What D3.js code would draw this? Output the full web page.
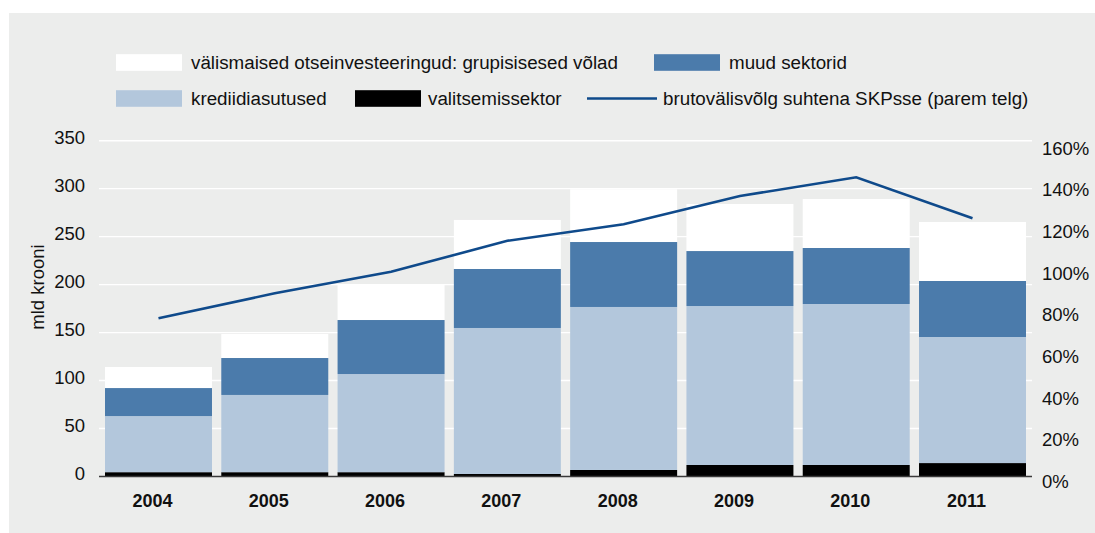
<!DOCTYPE html>
<html>
<head>
<meta charset="utf-8">
<script src="https://cdn.jsdelivr.net/npm/d3@7"></script>
<style>
html,body{margin:0;padding:0;background:#ffffff;}
svg{display:block;font-family:"Liberation Sans",Arial,Helvetica,sans-serif;}
</style>
</head>
<body>
<svg id="chart" width="1095" height="533"></svg>
<script>
const years = ["2004","2005","2006","2007","2008","2009","2010","2011"];
const govSector = [4.5, 4.5, 4.5, 2.6, 6.8, 12, 12, 14];
const creditInst = [58.5, 80.5, 102.3, 152.2, 169.9, 165.7, 167.8, 131.4];
const otherSectors = [29.2, 38.5, 56.3, 61.5, 67.7, 57.3, 58.4, 58.4];
const fdiIntra = [21.9, 25, 36.5, 51.1, 55, 49, 51, 61.5];
const debtToGdp = [78.4, 90.4, 100.7, 115.6, 123.5, 137.1, 146.1, 126.4];
const leftTicks = [0, 50, 100, 150, 200, 250, 300, 350];
const rightTicks = [0, 20, 40, 60, 80, 100, 120, 140, 160];

const seriesKeys = ["gov", "credit", "other", "fdi"];
const seriesLabels = {
  fdi: "välismaised otseinvesteeringud: grupisisesed võlad",
  other: "muud sektorid",
  credit: "krediidiasutused",
  gov: "valitsemissektor",
  line: "brutovälisvõlg suhtena SKPsse (parem telg)"
};
const colors = {gov: "#000000", credit: "#b3c7dc", other: "#4b7bab", fdi: "#ffffff", line: "#0f4a8b"};

const table = years.map((y, i) => ({year: y, gov: govSector[i], credit: creditInst[i], other: otherSectors[i], fdi: fdiIntra[i]}));

const svg = d3.select("#chart");
const W = 1095, H = 533;

// panel background
svg.append("rect").attr("x", 9).attr("y", 13).attr("width", W - 9).attr("height", H - 13).attr("fill", "#ecedec");

const x = d3.scaleBand().domain(years).range([99, 1032]).paddingInner(0.08).paddingOuter(0.0516);
const y = d3.scaleLinear().domain([0, 350]).range([476.5, 140.7]);
const yR = d3.scaleLinear().domain([0, 160]).range([481.6, 148.3]);

const fontSize = 18.5;

// gridlines
svg.append("g").selectAll("line").data(leftTicks.filter(d => d > 0)).join("line")
  .attr("x1", 99).attr("x2", 1032)
  .attr("y1", d => y(d)).attr("y2", d => y(d))
  .attr("stroke", "#ffffff").attr("stroke-width", 1.4);

// stacked bars
const stack = d3.stack().keys(seriesKeys)(table);
svg.append("g").selectAll("g").data(stack).join("g")
  .attr("fill", d => colors[d.key])
  .selectAll("rect").data(d => d).join("rect")
  .attr("x", d => x(d.data.year))
  .attr("width", x.bandwidth())
  .attr("y", d => y(d[1]))
  .attr("height", d => y(d[0]) - y(d[1]));

// baseline axis
svg.append("line").attr("x1", 99).attr("x2", 1032).attr("y1", y(0)).attr("y2", y(0))
  .attr("stroke", "#3a3a3a").attr("stroke-width", 1.4);

// left axis
const leftAxis = d3.axisLeft(y).tickValues(leftTicks).tickSize(0).tickPadding(14);
const gL = svg.append("g").attr("transform", "translate(99,-3)").call(leftAxis);
gL.select(".domain").remove();
gL.selectAll("text").attr("font-size", fontSize).attr("fill", "#111").attr("font-family", "Liberation Sans, Arial, sans-serif");

// right axis
const rightAxis = d3.axisRight(yR).tickValues(rightTicks).tickSize(0).tickPadding(10).tickFormat(d => d + "%");
const gR = svg.append("g").attr("transform", "translate(1032,0)").call(rightAxis);
gR.select(".domain").remove();
gR.selectAll("text").attr("font-size", fontSize).attr("fill", "#111").attr("font-family", "Liberation Sans, Arial, sans-serif");

// x axis labels
const xAxis = d3.axisBottom(x).tickSize(0).tickPadding(18);
const gX = svg.append("g").attr("transform", `translate(-6,${y(0)})`).call(xAxis);
gX.select(".domain").remove();
gX.selectAll("text").attr("font-size", 18).attr("font-weight", "bold").attr("fill", "#111").attr("font-family", "Liberation Sans, Arial, sans-serif");

// y title
svg.append("text").attr("transform", "translate(44,287) rotate(-90)")
  .attr("text-anchor", "middle").attr("font-size", fontSize).attr("fill", "#111")
  .text("mld krooni");

// line
const line = d3.line().x((d, i) => x(years[i]) + x.bandwidth() / 2).y(d => yR(d));
svg.append("path").datum(debtToGdp).attr("d", line)
  .attr("fill", "none").attr("stroke", colors.line).attr("stroke-width", 2.6);

// legend
const leg = svg.append("g");
const legendItems = [
  {key: "fdi", sx: 116, tx: 191, cy: 62.5},
  {key: "other", sx: 654, tx: 729, cy: 62.5},
  {key: "credit", sx: 116, tx: 191, cy: 98.5},
  {key: "gov", sx: 355, tx: 428, cy: 98.5},
  {key: "line", sx: 587, tx: 663, cy: 98.5}
];
legendItems.forEach(it => {
  if (it.key === "line") {
    leg.append("line").attr("x1", it.sx).attr("x2", it.sx + 70).attr("y1", it.cy).attr("y2", it.cy)
      .attr("stroke", colors.line).attr("stroke-width", 2.6);
  } else {
    leg.append("rect").attr("x", it.sx).attr("y", it.cy - 8.3).attr("width", 66).attr("height", 16.6).attr("fill", colors[it.key]);
  }
  leg.append("text").attr("x", it.tx).attr("y", it.cy).attr("dy", "0.35em")
    .attr("font-size", 18.8).attr("fill", "#111").text(seriesLabels[it.key]);
});
</script>
</body>
</html>
